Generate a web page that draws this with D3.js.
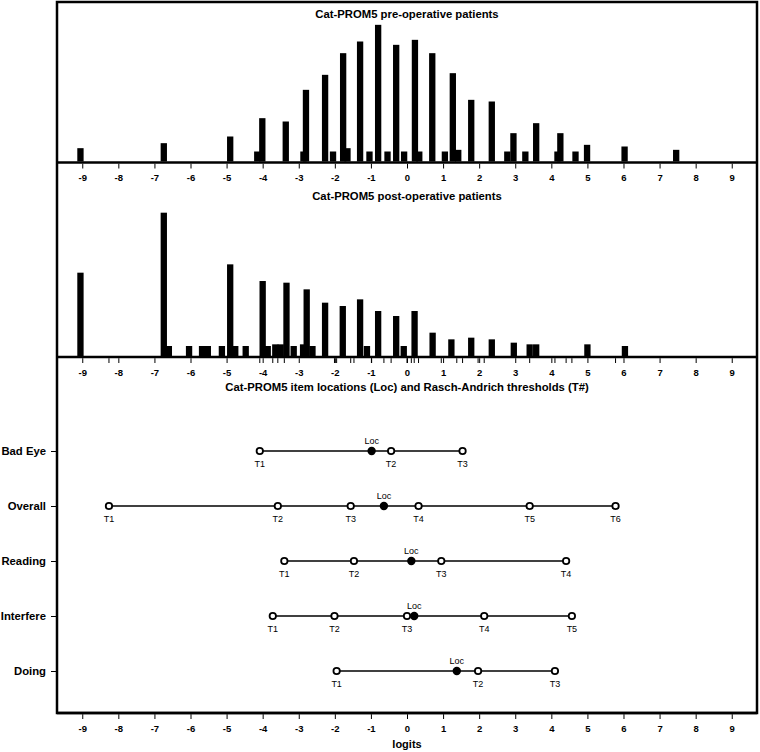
<!DOCTYPE html>
<html>
<head>
<meta charset="utf-8">
<script src="https://cdn.jsdelivr.net/npm/d3@7"></script>
<style>
  html, body { margin: 0; padding: 0; background: #fff; }
  svg { display: block; }
  text { font-family: "Liberation Sans", Arial, sans-serif; fill: #000; }
</style>
</head>
<body>
<svg id="chart" width="760" height="752"></svg>
<script>
// ---------- DATA ----------
const tickLabels = [-9, -8, -7, -6, -5, -4, -3, -2, -1, 0, 1, 2, 3, 4, 5, 6, 7, 8, 9];

const preLogits = [-9.05, -6.74, -4.90, -4.15, -4.01, -3.36, -2.87, -2.80, -2.27, -2.05, -1.77, -1.65, -1.30, -1.04, -0.80, -0.54, -0.30, -0.08, 0.22, 0.34, 0.70, 1.05, 1.27, 1.42, 1.78, 2.35, 2.78, 2.95, 3.28, 3.58, 4.17, 4.25, 4.67, 4.99, 6.03, 7.46];
const preCounts = [8, 11, 15, 6, 26, 24, 6, 43, 52, 6, 65, 8, 72, 6, 82, 6, 70, 6, 73, 6, 65, 6, 53, 7, 37, 36, 6, 17, 6, 23, 6, 17, 6, 10, 9, 7];

const postLogits = [-9.05, -6.74, -6.60, -6.04, -5.68, -5.52, -5.13, -4.90, -4.76, -4.47, -4.00, -3.86, -3.65, -3.50, -3.34, -3.14, -2.88, -2.78, -2.62, -2.27, -1.78, -1.30, -1.11, -0.80, -0.30, -0.09, 0.21, 0.71, 1.23, 1.78, 2.35, 2.96, 3.40, 3.58, 5.00, 6.04];
const postCounts = [50, 86, 6, 6, 6, 6, 6, 55, 6, 6, 45, 6, 7, 7, 44, 6, 7, 40, 6, 32, 30, 34, 6, 27, 24, 6, 27, 14, 10, 11, 10, 8, 7, 7, 7, 6];

const itemNames = ["Bad Eye", "Overall", "Reading", "Interfere", "Doing"];
const itemLocations = [-0.98, -0.64, 0.12, 0.20, 1.38];
const badEyeThresholds = [-4.08, -0.44, 1.54];
const overallThresholds = [-8.26, -3.58, -1.56, 0.32, 3.40, 5.78];
const readingThresholds = [-3.40, -1.47, 0.95, 4.41];
const interfereThresholds = [-3.72, -2.01, 0.00, 2.14, 4.57];
const doingThresholds = [-1.95, 1.97, 4.10];
const itemThresholds = [badEyeThresholds, overallThresholds, readingThresholds, interfereThresholds, doingThresholds];

const titles = [
  "Cat-PROM5 pre-operative patients",
  "Cat-PROM5 post-operative patients",
  "Cat-PROM5 item locations (Loc) and Rasch-Andrich thresholds (T#)"
];
const xTitle = "logits";

// ---------- LAYOUT ----------
const L = 57, R = 757, T = 2, B = 713;
const axis1Y = 162.5, axis2Y = 357, axis3Y = 713;
const barW = 0.175; // logits

const svg = d3.select("#chart");
const x = d3.scaleLinear().domain([-9.7, 9.7]).range([L, R]);
const yPre = d3.scaleLinear().domain([0, 96]).range([axis1Y - 1, axis1Y - 161]);
const yPost = d3.scaleLinear().domain([0, 116]).range([axis2Y - 1, axis2Y - 194.3]);
const yItem = d3.scalePoint().domain(itemNames).range([451, 671]);

// ---------- BARS ----------
function drawBars(logits, counts, y) {
  svg.append("g").selectAll("rect")
    .data(logits.map((v, i) => ({ v, c: counts[i] })))
    .join("rect")
    .attr("x", d => x(d.v - barW / 2))
    .attr("width", d => x(d.v + barW / 2) - x(d.v - barW / 2))
    .attr("y", d => y(d.c))
    .attr("height", d => y(0) - y(d.c))
    .attr("fill", "#000");
}
drawBars(preLogits, preCounts, yPre);
drawBars(postLogits, postCounts, yPost);

// ---------- AXES ----------
function drawAxis(yPos, extraTicks) {
  const g = svg.append("g").attr("transform", `translate(0,${yPos})`);
  const ax = d3.axisBottom(x).tickValues(tickLabels).tickSize(5).tickPadding(4)
    .tickFormat(d => String(d));
  g.call(ax);
  g.select(".domain").remove();
  g.selectAll(".tick line").attr("stroke", "#000").attr("stroke-width", 1).attr("y1", 1.2).attr("y2", 6);
  g.selectAll(".tick text")
    .attr("font-family", "Liberation Sans, Arial, sans-serif")
    .attr("font-weight", "bold").attr("font-size", 9.5)
    .attr("y", 0).attr("dy", null).attr("transform", "translate(0,18.5)");
  if (extraTicks) {
    g.append("g").selectAll("line").data(extraTicks).join("line")
      .attr("x1", d => x(d)).attr("x2", d => x(d))
      .attr("y1", 1.2).attr("y2", 6)
      .attr("stroke", "#000").attr("stroke-width", 1);
  }
  svg.append("line").attr("x1", L).attr("x2", R).attr("y1", yPos).attr("y2", yPos)
    .attr("stroke", "#000").attr("stroke-width", 2.5);
}
const allItemPoints = itemLocations.concat(...itemThresholds);
drawAxis(axis1Y, null);
drawAxis(axis2Y, allItemPoints);
drawAxis(axis3Y, null);

// ---------- FRAME ----------
svg.append("rect").attr("x", L).attr("y", T).attr("width", R - L).attr("height", B - T)
  .attr("fill", "none").attr("stroke", "#000").attr("stroke-width", 2.5);

// ---------- TITLES ----------
const titleY = [18, 200, 391];
titles.forEach((t, i) => {
  svg.append("text").attr("x", x(0)).attr("y", titleY[i])
    .attr("text-anchor", "middle").attr("font-weight", "bold").attr("font-size", 11.3)
    .text(t);
});
svg.append("text").attr("x", x(0)).attr("y", 748)
  .attr("text-anchor", "middle").attr("font-weight", "bold").attr("font-size", 11)
  .text(xTitle);

// ---------- ITEM MAP ----------
const yAxisG = svg.append("g").attr("transform", `translate(${L - 1},0)`)
  .call(d3.axisLeft(yItem).tickSize(5).tickPadding(5));
yAxisG.select(".domain").remove();
yAxisG.selectAll(".tick line").attr("stroke", "#000").attr("stroke-width", 1);
yAxisG.selectAll(".tick text")
  .attr("font-family", "Liberation Sans, Arial, sans-serif")
  .attr("font-weight", "bold").attr("font-size", 11.3);

itemNames.forEach((name, i) => {
  const yy = yItem(name);
  const th = itemThresholds[i];
  const g = svg.append("g");
  g.append("line")
    .attr("x1", x(d3.min(th))).attr("x2", x(d3.max(th)))
    .attr("y1", yy).attr("y2", yy)
    .attr("stroke", "#000").attr("stroke-width", 1.6);
  g.selectAll("circle.t").data(th).join("circle")
    .attr("class", "t")
    .attr("cx", d => x(d)).attr("cy", yy).attr("r", 3.2)
    .attr("fill", "#fff").attr("stroke", "#000").attr("stroke-width", 1.8);
  g.selectAll("text.t").data(th).join("text")
    .attr("class", "t")
    .attr("x", d => x(d)).attr("y", yy + 15.5)
    .attr("text-anchor", "middle").attr("font-size", 9)
    .text((d, j) => "T" + (j + 1));
  g.append("circle")
    .attr("cx", x(itemLocations[i])).attr("cy", yy).attr("r", 4.2)
    .attr("fill", "#000");
  g.append("text")
    .attr("x", x(itemLocations[i])).attr("y", yy - 7.5)
    .attr("text-anchor", "middle").attr("font-size", 9)
    .text("Loc");
});
</script>
</body>
</html>
